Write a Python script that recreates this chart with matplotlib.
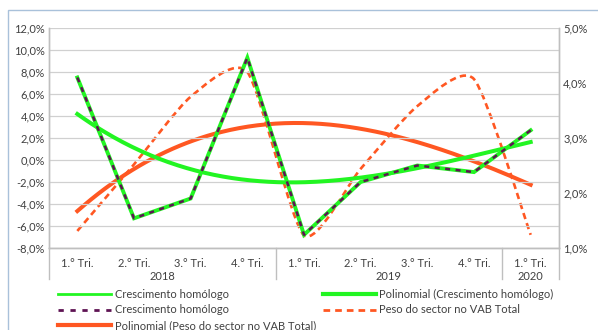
import numpy as np
import matplotlib
matplotlib.use("Agg")
import matplotlib.pyplot as plt
from matplotlib.path import Path
from matplotlib.patches import PathPatch, Rectangle
from matplotlib.lines import Line2D
from matplotlib.ticker import FuncFormatter, MultipleLocator
import matplotlib.transforms as mtransforms

# dados trimestrais
trimestres = ["1.° Tri.", "2.° Tri.", "3.° Tri.", "4.° Tri.",
              "1.° Tri.", "2.° Tri.", "3.° Tri.", "4.° Tri.",
              "1.° Tri."]
anos = ["2018", "2019", "2020"]
anos_n = [4, 4, 1]
crescimento = [7.5, -5.3, -3.5, 9.3, -6.8, -2.0, -0.5, -1.1, 2.7]
peso_vab = [1.31, 2.52, 3.75, 4.2, 1.23, 2.44, 3.58, 4.07, 1.24]

VERDE = "#22F522"
ROXO = "#5E1353"
LARANJA = "#FF5722"

plt.rcParams["font.family"] = ["Lato", "DejaVu Sans"]
plt.rcParams["font.size"] = 8

fig = plt.figure(figsize=(5.98, 3.30), dpi=100)
W, H = 598, 330
ax = fig.add_axes([49 / W, (H - 248) / H, 510 / W, 220 / H])
ax2 = ax.twinx()

x = np.arange(len(crescimento))

# linhas de tendência polinomiais
xs = np.linspace(0, len(x) - 1, 200)
p1 = np.polyfit(x, crescimento, 3)
p2 = np.polyfit(x, peso_vab, 3)

ax.plot(x, crescimento, color=VERDE, lw=2.8, solid_joinstyle="miter", zorder=3)
ax.plot(xs, np.polyval(p1, xs), color=VERDE, lw=2.9, zorder=4)
ax.plot(x, crescimento, color=ROXO, lw=1.8, dashes=(2.0, 2.2), zorder=5)


# linha suavizada (bezier) para o peso no VAB
def suavizar(xv, yv, k=0.11):
    pts = np.column_stack([xv, yv]).astype(float)
    verts = [pts[0]]
    codes = [Path.MOVETO]
    n = len(pts)
    for i in range(n - 1):
        p0 = pts[max(i - 1, 0)]
        a = pts[i]
        b = pts[i + 1]
        p3 = pts[min(i + 2, n - 1)]
        verts += [a + (b - p0) * k, b - (p3 - a) * k, b]
        codes += [Path.CURVE4] * 3
    return Path(verts, codes)


ax2.add_patch(PathPatch(suavizar(x, peso_vab), fill=False, edgecolor=LARANJA,
                        lw=1.9, linestyle=(0, (2.4, 1.6)), zorder=3))
ax2.plot(xs, np.polyval(p2, xs), color=LARANJA, lw=2.9, zorder=4)

ax.set_xlim(-0.5, len(x) - 0.5)
ax.set_ylim(-8, 12)
ax2.set_ylim(1, 5)
ax.yaxis.set_major_locator(MultipleLocator(2))
ax2.yaxis.set_major_locator(MultipleLocator(1))
fmt = FuncFormatter(lambda v, p: f"{v:.1f}%".replace(".", ","))
ax.yaxis.set_major_formatter(fmt)
ax2.yaxis.set_major_formatter(fmt)
ax.set_zorder(ax2.get_zorder() + 1)
ax.patch.set_visible(False)

ax.grid(axis="y", color="#D0D0D0", lw=0.9)
ax.set_axisbelow(True)
for a in (ax, ax2):
    for s in a.spines.values():
        s.set_color("#BFBFBF")
        s.set_linewidth(1.0)
    a.spines["top"].set_visible(False)
    a.tick_params(length=0, labelsize=8, colors="#404040", pad=3)
ax.set_xticks(x)
ax.set_xticklabels(trimestres)
ax.tick_params(axis="x", pad=7)

# separadores e rótulos dos anos
trans = mtransforms.blended_transform_factory(ax.transData, ax.transAxes)
pos = -0.5
ax.plot([pos, pos], [0, -0.14], transform=trans, color="#BFBFBF", lw=1.0, clip_on=False)
for ano, n in zip(anos, anos_n):
    ax.text(pos + n / 2, -0.13, ano, transform=trans, ha="center", va="center",
            fontsize=8, color="#404040")
    pos += n
    ax.plot([pos, pos], [0, -0.14], transform=trans, color="#BFBFBF", lw=1.0, clip_on=False)

handles = [
    Line2D([], [], color=VERDE, lw=2.0),
    Line2D([], [], color=ROXO, lw=2.0, dashes=(1.9, 2.4)),
    Line2D([], [], color=LARANJA, lw=3.0),
    Line2D([], [], color=VERDE, lw=3.0),
    Line2D([], [], color=LARANJA, lw=2.0, dashes=(2.4, 1.8)),
]
labels = ["Crescimento homólogo", "Crescimento homólogo",
          "Polinomial (Peso do sector no VAB Total)",
          "Polinomial (Crescimento homólogo)", "Peso do sector no VAB Total"]
fig.legend(handles, labels, ncol=2, loc="upper left",
           bbox_to_anchor=(58 / W, 1 - 289 / H), frameon=False, fontsize=8,
           handlelength=4.8, handletextpad=0.3, labelspacing=0.4,
           columnspacing=0.6, borderaxespad=0, borderpad=0, labelcolor="#404040")

# moldura da área do gráfico
fig.patches.append(Rectangle((8 / W, -0.1), 1.2, 1 - 10 / H + 0.1, transform=fig.transFigure,
                             fill=False, edgecolor="#A9C1DA", lw=1.0))

fig.savefig("out.png", dpi=100)
